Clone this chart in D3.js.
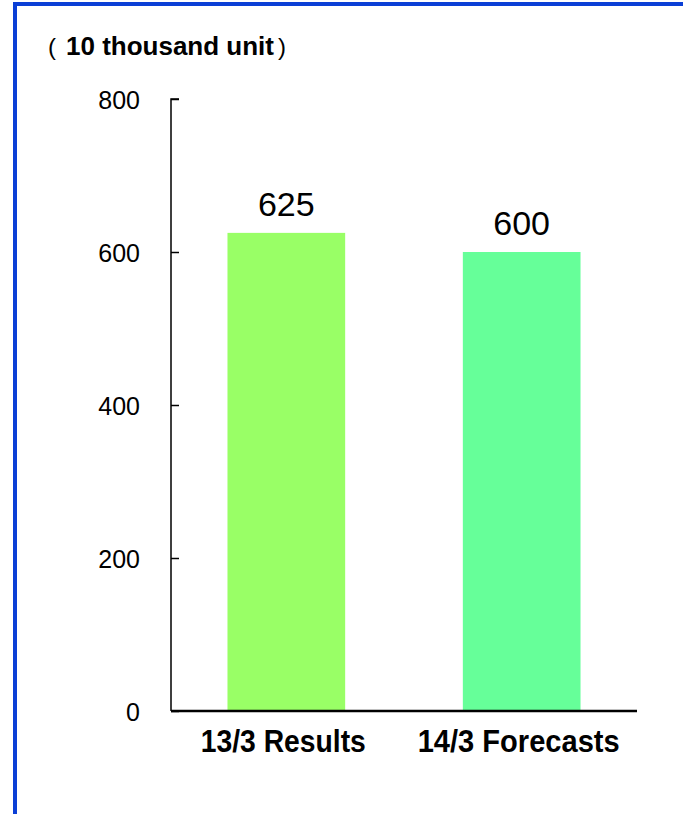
<!DOCTYPE html>
<html>
  <head>
    <meta charset="utf-8">
    <title>Unit chart</title>
    <style>
      body { margin: 0; background: #fff; }
      svg { display: block; }
      .num { font-family: "Liberation Sans", Arial, sans-serif; }
      .narrow { font-family: "Liberation Sans", Arial, sans-serif; font-weight: bold; }
    </style>
  </head>
  <body>
    <svg width="683" height="814"></svg>
  </body>
  <script src="https://cdn.jsdelivr.net/npm/d3@7"></script>
  <script type="text/javascript">
  // data
  var categories = ['13/3 Results', '14/3 Forecasts'];
  var values = [625, 600];
  var barColors = ['#99ff66', '#66ff99'];
  var yTicks = [0, 200, 400, 600, 800];
  var unitLabel = '10 thousand unit';

  var svg = d3.select('svg');

  // blue frame (top + left)
  svg.append('rect').attr('x', 13).attr('y', 2).attr('width', 670).attr('height', 4).attr('fill', '#0b3fd6');
  svg.append('rect').attr('x', 13).attr('y', 2).attr('width', 4).attr('height', 812).attr('fill', '#0b3fd6');

  var x0 = 171, x1 = 637, yTop = 99, yBot = 711;

  var y = d3.scaleLinear().domain([0, 800]).range([yBot, yTop]);
  var x = d3.scaleBand().domain(categories).range([x0, x1]).paddingInner(0.5).paddingOuter(0.24);

  // unit title, one text with thin parens
  var t = svg.append('text').attr('x', 48).attr('y', 55).attr('class', 'num').attr('font-size', 24);
  t.append('tspan').text('(');
  t.append('tspan').attr('x', 66).attr('font-size', 26).attr('font-weight', 'bold').text(unitLabel);
  t.append('tspan').attr('x', 278).text(')');

  // bars
  svg.selectAll('rect.bar').data(values).enter().append('rect')
    .attr('class', 'bar')
    .attr('x', function(d, i) { return x(categories[i]); })
    .attr('width', x.bandwidth())
    .attr('y', function(d) { return y(d); })
    .attr('height', function(d) { return y(0) - y(d); })
    .attr('fill', function(d, i) { return barColors[i]; });

  // value labels
  svg.selectAll('text.val').data(values).enter().append('text')
    .attr('class', 'val num')
    .attr('x', function(d, i) { return x(categories[i]) + x.bandwidth() / 2; })
    .attr('y', function(d) { return y(d) - 17; })
    .attr('text-anchor', 'middle')
    .attr('font-size', 34)
    .attr('fill', '#000')
    .text(function(d) { return d; });

  // y axis, ticks pointing inward
  var yAxis = d3.axisRight(y).tickValues(yTicks).tickSize(8).tickFormat('');
  var gy = svg.append('g').attr('transform', 'translate(' + x0 + ',0)').call(yAxis);
  gy.select('.domain').attr('stroke', '#000').attr('stroke-width', 1.5).attr('d', 'M8,' + yTop + 'H0V' + yBot);
  gy.selectAll('.tick line').attr('stroke', '#000').attr('stroke-width', 1.5);

  svg.selectAll('text.ytick').data(yTicks).enter().append('text')
    .attr('class', 'ytick num')
    .attr('x', 140)
    .attr('y', function(d) { return y(d) + 10; })
    .attr('text-anchor', 'end')
    .attr('font-size', 25)
    .text(function(d) { return d; });

  // x axis line
  var xAxis = d3.axisBottom(x).tickSize(0).tickFormat('');
  var gx = svg.append('g').attr('transform', 'translate(0,' + yBot + ')').call(xAxis);
  gx.select('.domain').attr('stroke', '#000').attr('stroke-width', 2.5).attr('d', 'M' + x0 + ',0H' + x1);

  var catWidths = [165, 202];
  svg.selectAll('text.cat').data(categories).enter().append('text')
    .attr('class', 'cat narrow')
    .attr('x', function(d) { return x(d) + x.bandwidth() / 2 - 3; })
    .attr('y', 752)
    .attr('text-anchor', 'middle')
    .attr('font-size', 32)
    .attr('textLength', function(d, i) { return catWidths[i]; })
    .attr('lengthAdjust', 'spacingAndGlyphs')
    .text(function(d) { return d; });
  </script>
</html>
